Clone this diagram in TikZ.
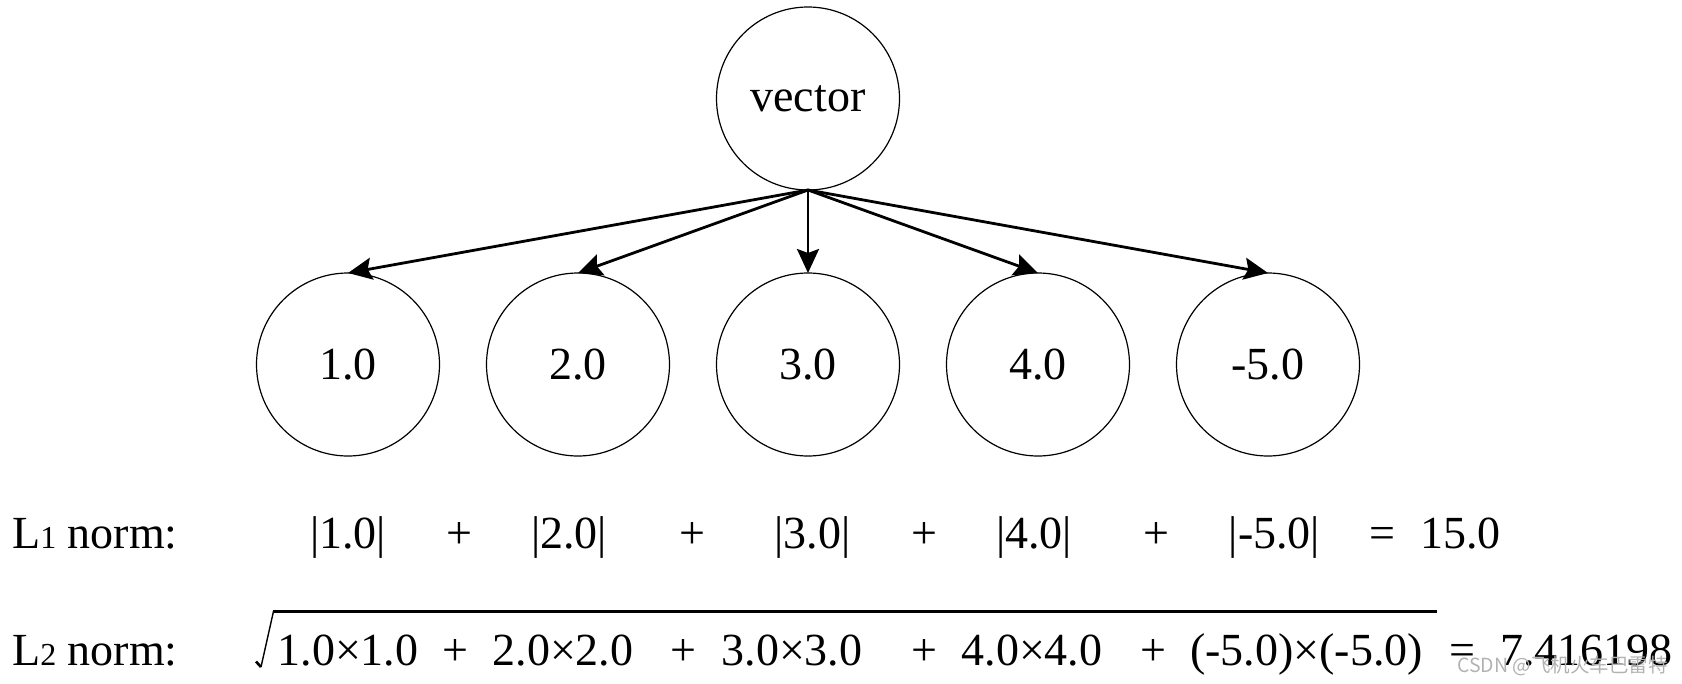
\documentclass[tikz,border=0pt]{standalone}
\usepackage{fontspec}
\setmainfont{Liberation Serif}
\newfontfamily\cjkfont{Noto Sans CJK SC}
\usetikzlibrary{arrows.meta}
\begin{document}
\begin{tikzpicture}[x=1pt,y=-1pt,
  valnode/.style={circle,draw,line width=1.2pt,minimum size=183pt,inner sep=0pt,outer sep=0pt,font=\fontsize{46}{46}\selectfont},
  edgearrow/.style={line width=2.8pt,-{Stealth[length=24pt,width=22pt,inset=4pt]}},
  eqtext/.style={anchor=base,inner sep=0pt,font=\fontsize{46}{46}\selectfont},
  rowlabel/.style={anchor=base west,inner sep=0pt,font=\fontsize{46}{46}\selectfont},
  watermark/.style={anchor=base west,inner sep=0pt,text=black!30,font=\cjkfont\fontsize{19.5}{19.5}\selectfont}]
\useasboundingbox (0,0) rectangle (1682,683);
% tree
\node[valnode] (v) at (808,98.5) {vector};
\node[valnode] (n1) at (348,364.5) {1.0};
\node[valnode] (n2) at (578,364.5) {2.0};
\node[valnode] (n3) at (808,364.5) {3.0};
\node[valnode] (n4) at (1038,364.5) {4.0};
\node[valnode] (n5) at (1268,364.5) {-5.0};
\foreach \n in {n1,n2,n3,n4,n5} \draw[edgearrow] (v.south) -- (\n.north);
% L1 row
\node[rowlabel] (l1) at (12,548) {L{\fontsize{32}{32}\selectfont 1} norm:};
\node[eqtext] (a1) at (348,548) {|1.0|};
\node[eqtext] (p1) at (459,548) {+};
\node[eqtext] (a2) at (569,548) {|2.0|};
\node[eqtext] (p2) at (692,548) {+};
\node[eqtext] (a3) at (812.5,548) {|3.0|};
\node[eqtext] (p3) at (924,548) {+};
\node[eqtext] (a4) at (1034,548) {|4.0|};
\node[eqtext] (p4) at (1156,548) {+};
\node[eqtext] (a5) at (1274.5,548) {|-5.0|};
\node[eqtext] (e1) at (1382,548) {=};
\node[eqtext] (r1) at (1460.5,548) {15.0};
% L2 row
\node[rowlabel] (l2) at (12,665) {L{\fontsize{32}{32}\selectfont 2} norm:};
\coordinate (rt) at (256,661.5);
\coordinate (rb) at (261,667);
\coordinate (rtop) at (273.5,611.3);
\coordinate (rend) at (1437,611.3);
\draw[line width=2.6pt,line cap=butt] (rt) -- (rb);
\draw[line width=1.4pt] (rb) -- (rtop);
\draw[line width=2.7pt] ([xshift=-1pt]rtop) -- (rend);
\node[eqtext] (s1) at (348,665) {1.0×1.0};
\node[eqtext] (q1) at (455,665) {+};
\node[eqtext] (s2) at (563,665) {2.0×2.0};
\node[eqtext] (q2) at (683,665) {+};
\node[eqtext] (s3) at (792,665) {3.0×3.0};
\node[eqtext] (q3) at (924,665) {+};
\node[eqtext] (s4) at (1032,665) {4.0×4.0};
\node[eqtext] (q4) at (1153,665) {+};
\node[eqtext] (s5) at (1306.5,665) {(-5.0)×(-5.0)};
\node[eqtext] (e2) at (1462,665) {=};
\node[eqtext] (r2) at (1586.5,665) {7.416198};
\node[watermark] (wm) at (1457,672) {CSDN @飞机火车巴雷特};
\end{tikzpicture}
\end{document}
